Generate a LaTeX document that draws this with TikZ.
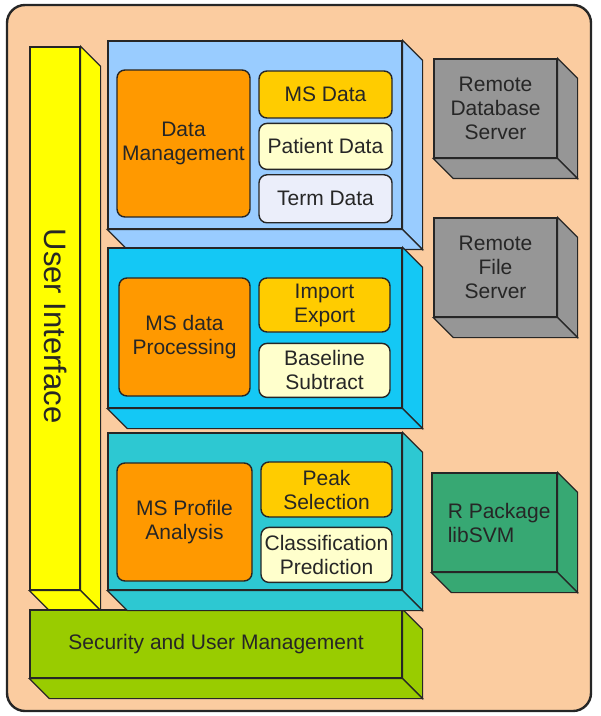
\documentclass[tikz,border=0pt]{standalone}
\usepackage{fontspec}
\setmainfont{Liberation Sans}
\usepackage{tikz}
\usetikzlibrary{positioning}
\usepackage{xcolor}

\definecolor{peach}{RGB}{251,204,160}
\definecolor{uiyellow}{RGB}{255,255,0}
\definecolor{dmblue}{RGB}{153,204,255}
\definecolor{proccyan}{RGB}{20,200,245}
\definecolor{profteal}{RGB}{45,200,210}
\definecolor{corange}{RGB}{255,153,0}
\definecolor{cgold}{RGB}{255,204,0}
\definecolor{cpale}{RGB}{255,255,204}
\definecolor{clav}{RGB}{235,238,250}
\definecolor{cgray}{RGB}{150,150,150}
\definecolor{cgreen}{RGB}{55,168,115}
\definecolor{clime}{RGB}{153,204,0}

% right and bottom faces of a block
\newcommand{\boxsides}[2]{%
\filldraw[face, fill=#2] (#1.north east) -- ++(20,20) -- ([shift={(20,20)}]#1.south east) -- (#1.south east) -- cycle;
\filldraw[face, fill=#2] (#1.south west) -- ++(20,20) -- ([shift={(20,20)}]#1.south east) -- (#1.south east) -- cycle;}

\begin{document}
\begin{tikzpicture}[x=0.5pt,y=-0.5pt,
  face/.style={draw=black!85, line width=0.6pt},
  front/.style={face, inner sep=0pt, align=center, text=black!85, font=\fontsize{10.5}{12}\selectfont},
  part/.style={front, rounded corners=4pt, line width=0.7pt}]
\useasboundingbox (0,0) rectangle (600,716);
\filldraw[fill=peach, draw=black!85, line width=1.2pt, rounded corners=9pt] (7,5) rectangle (591,711);

% user interface
\node[front, fill=uiyellow, minimum width=25pt, minimum height=271.5pt] (ui) at (55,318.5) {};
\boxsides{ui}{uiyellow}
\node[rotate=-90, text=black!85, font=\fontsize{15.5}{18}\selectfont] (uilabel) at (56,326) {User Interface};

% security
\node[front, fill=clime, minimum width=186pt, minimum height=34pt] (sec) at (216,644) {Security and User Management};
\boxsides{sec}{clime}

% data management
\node[front, fill=dmblue, minimum width=147pt, minimum height=94pt] (dmbox) at (255,135) {};
\boxsides{dmbox}{dmblue}
\node[part, fill=corange, minimum width=66.5pt, minimum height=73.5pt] (dm) at (183.5,143.5) {Data\\Management};
\node[part, fill=cgold, minimum width=66.5pt, minimum height=23.5pt] (msdata) at (325.5,94.5) {MS Data};
\node[part, fill=cpale, minimum width=66.5pt, minimum height=23pt, below=2pt of msdata] (patient) {Patient Data};
\node[part, fill=clav, minimum width=66.5pt, minimum height=24pt, below=2pt of patient] (term) {Term Data};

% processing
\node[front, fill=proccyan, minimum width=147pt, minimum height=80pt] (procbox) at (255,328) {};
\boxsides{procbox}{proccyan}
\node[part, fill=corange, minimum width=65.5pt, minimum height=59pt] (proc) at (184.5,337) {MS data\\Processing};
\node[part, fill=cgold, minimum width=65.5pt, minimum height=27pt] (impexp) at (324.5,305) {Import\\Export};
\node[part, fill=cpale, minimum width=65.5pt, minimum height=27pt, below=5pt of impexp] (baseline) {Baseline\\Subtract};

% profile analysis
\node[front, fill=profteal, minimum width=147pt, minimum height=78.5pt] (profbox) at (255,511.5) {};
\boxsides{profbox}{profteal}
\node[part, fill=corange, minimum width=67.5pt, minimum height=59pt] (prof) at (184.5,522) {MS Profile\\Analysis};
\node[part, fill=cgold, minimum width=65.5pt, minimum height=27.5pt] (peak) at (326.5,489.5) {Peak\\Selection};
\node[part, fill=cpale, minimum width=65.5pt, minimum height=27.5pt, below=4.5pt of peak] (classif) {Classification\\Prediction};

% servers
\node[front, fill=cgray, minimum width=61.5pt, minimum height=49.5pt] (dbserver) at (495.5,108.5) {Remote\\Database\\Server};
\boxsides{dbserver}{cgray}
\node[front, fill=cgray, minimum width=61.5pt, minimum height=49.5pt] (fileserver) at (495.5,267.5) {Remote\\File\\Server};
\boxsides{fileserver}{cgray}
\node[front, fill=cgreen, minimum width=62.5pt, minimum height=49.5pt] (rpack) at (494.5,522.5) {};
\boxsides{rpack}{cgreen}
\node[anchor=west, align=left, inner sep=0pt, text=black!85, font=\fontsize{10.5}{12}\selectfont] (rlabel) at ([xshift=8pt]rpack.west) {R Package\\libSVM};
\end{tikzpicture}
\end{document}
